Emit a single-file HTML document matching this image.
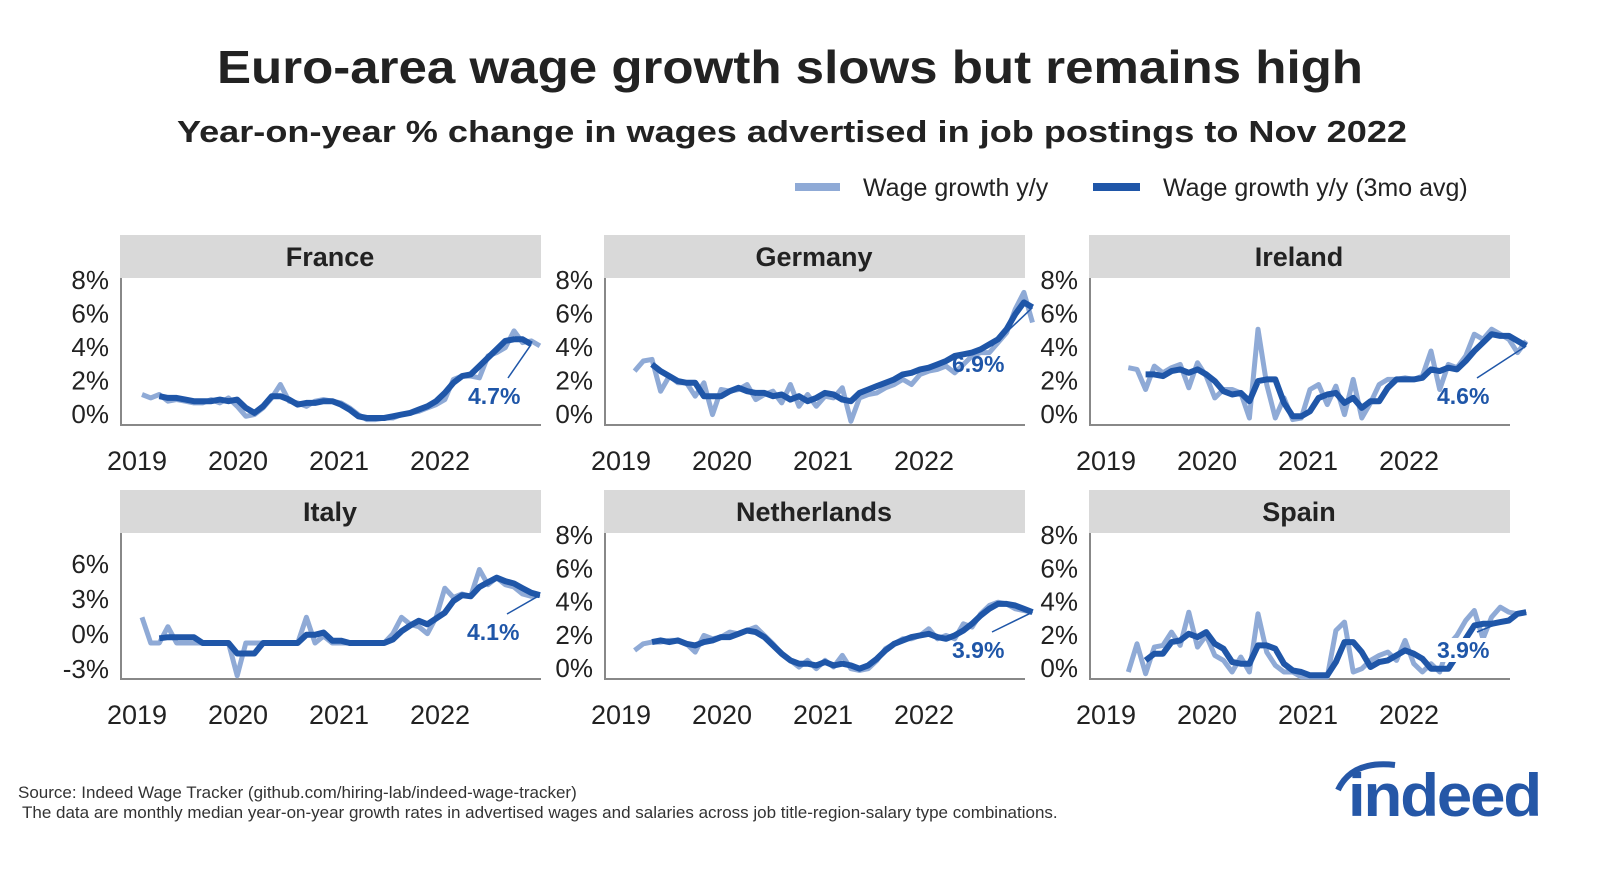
<!DOCTYPE html>
<html><head><meta charset="utf-8"><style>
html,body{margin:0;padding:0;background:#fff;}
svg{display:block;font-family:"Liberation Sans",sans-serif;}
</style></head><body>
<svg id="chart" width="1600" height="873" viewBox="0 0 1600 873" xmlns="http://www.w3.org/2000/svg">
<text x="790" y="83" text-anchor="middle" font-size="46" font-weight="bold" fill="#222" textLength="1146" lengthAdjust="spacingAndGlyphs">Euro-area wage growth slows but remains high</text>
<text x="792" y="142" text-anchor="middle" font-size="31" font-weight="bold" fill="#222" textLength="1230" lengthAdjust="spacingAndGlyphs">Year-on-year % change in wages advertised in job postings to Nov 2022</text>
<g>
<g><line x1="795" y1="187" x2="840" y2="187" stroke="#8faad6" stroke-width="8"/><text x="863" y="196" font-size="25" fill="#222">Wage growth y/y</text></g>
<g><line x1="1093" y1="187" x2="1140" y2="187" stroke="#1f56a8" stroke-width="8"/><text x="1163" y="196" font-size="25" fill="#222">Wage growth y/y (3mo avg)</text></g>
</g>
<g id="panels"></g>
<text x="18" y="798" font-size="17" fill="#333">Source: Indeed Wage Tracker (github.com/hiring-lab/indeed-wage-tracker)</text>
<text x="22" y="818" font-size="17" fill="#333">The data are monthly median year-on-year growth rates in advertised wages and salaries across job title-region-salary type combinations.</text>
<g>
<path d="M1338 790 Q1352 760 1395 765" stroke="#2557a7" stroke-width="6" fill="none"/>
<text x="1348" y="816" font-size="60" font-weight="bold" fill="#2557a7" letter-spacing="-2" textLength="192" lengthAdjust="spacingAndGlyphs">indeed</text>
</g>
</svg>
<script>
const countries = ["France","Germany","Ireland","Italy","Netherlands","Spain"];
const frRaw = [1.7,1.5,1.7,1.3,1.4,1.3,1.2,1.2,1.4,1.2,1.5,1.0,0.4,0.5,0.9,1.5,2.3,1.3,1.2,1.0,1.3,1.4,1.3,1.2,0.9,0.5,0.2,0.2,0.3,0.3,0.5,0.6,0.7,0.9,1.1,1.4,2.6,2.8,2.8,2.7,4.0,4.2,4.5,5.5,4.8,4.9,4.6];
const frAvg = [null,null,1.6,1.5,1.5,1.4,1.3,1.3,1.3,1.4,1.3,1.4,0.9,0.6,1.0,1.6,1.6,1.4,1.1,1.2,1.2,1.3,1.3,1.1,0.8,0.4,0.3,0.3,0.3,0.4,0.5,0.6,0.8,1.0,1.3,1.8,2.4,2.8,2.9,3.4,3.9,4.4,4.9,5.0,5.0,4.7];
const deRaw = [3.1,3.7,3.8,1.9,2.8,2.4,2.4,1.6,2.4,0.5,2.0,1.9,2.0,2.3,1.4,1.7,1.9,1.2,2.3,1.0,1.7,1.0,1.6,1.5,2.1,0.1,1.5,1.7,1.8,2.1,2.3,2.6,2.3,2.9,3.1,3.2,3.4,3.0,3.5,4.0,4.2,4.2,4.8,5.4,6.8,7.8,6.0];
const deAvg = [null,null,3.5,3.1,2.8,2.5,2.4,2.4,1.6,1.6,1.6,1.9,2.1,1.9,1.8,1.8,1.6,1.7,1.4,1.6,1.3,1.5,1.8,1.7,1.4,1.3,1.8,2.0,2.2,2.4,2.6,2.9,3.0,3.2,3.3,3.5,3.7,4.0,4.1,4.2,4.4,4.7,5.0,5.6,6.5,7.2,6.9];
const ieRaw = [3.3,3.2,2.0,3.4,3.0,3.3,3.5,2.1,3.6,2.8,1.5,2.0,2.0,1.8,0.3,5.6,2.3,0.3,1.5,0.2,0.3,2.0,2.3,1.1,2.2,0.5,2.6,0.3,1.2,2.3,2.6,2.6,2.7,2.6,2.8,4.3,2.0,3.5,3.3,4.0,5.3,5.0,5.6,5.3,5.0,4.2,4.9];
const ieAvg = [null,null,2.9,2.9,2.8,3.1,3.2,3.0,3.2,2.9,2.5,1.9,1.7,1.8,1.3,2.5,2.6,2.6,1.2,0.4,0.4,0.7,1.5,1.7,1.8,1.2,1.5,0.9,1.3,1.3,2.1,2.6,2.6,2.6,2.7,3.2,3.1,3.3,3.2,3.7,4.3,4.8,5.3,5.2,5.2,4.9,4.6];
const itRaw = [2.2,0,0,1.4,0,0,0,0,0,0,0,-2.8,0,0,0,0,0,0,0,2.2,0,0.6,0,0,0,0,0,0,0,0.8,2.2,1.6,1.4,0.8,2.2,4.7,3.9,4.2,4.0,6.3,5.0,5.6,5.0,4.8,4.2,4.0,4.1];
const itAvg = [null,null,0.4,0.5,0.5,0.5,0.5,0,0,0,0,-0.9,-0.9,-0.9,0,0,0,0,0,0.7,0.7,0.9,0.2,0.2,0,0,0,0,0,0.3,1.0,1.5,1.9,1.6,2.1,2.6,3.6,4.1,4.0,4.8,5.2,5.6,5.3,5.1,4.7,4.3,4.1];
const nlRaw = [1.6,2.0,2.1,2.1,2.2,2.2,2.0,1.5,2.5,2.3,2.4,2.7,2.6,2.8,3.0,2.5,2.0,1.4,1.0,0.6,1.0,0.5,1.0,0.6,1.3,0.5,0.4,0.5,1.0,1.7,2.0,2.3,2.3,2.5,2.9,2.3,2.5,2.3,3.2,3.0,3.8,4.3,4.5,4.4,4.1,4.0,3.9];
const nlAvg = [null,null,2.1,2.2,2.1,2.2,2.0,1.9,2.1,2.2,2.4,2.4,2.6,2.8,2.7,2.4,1.9,1.4,1.0,0.8,0.8,0.7,0.9,0.7,0.8,0.7,0.5,0.7,1.1,1.6,2.0,2.2,2.4,2.5,2.6,2.4,2.3,2.5,2.8,3.2,3.7,4.1,4.4,4.4,4.3,4.1,3.9];
const esRaw = [0.3,2.0,0.2,1.8,1.9,2.7,1.9,3.9,1.8,2.5,1.3,1.0,0.3,1.2,0.3,3.8,1.5,0.7,0.3,0.3,0,0,0,0,2.8,3.3,0.3,0.5,1.0,1.3,1.5,1.0,2.2,0.8,0.3,0.8,0.3,1.9,2.5,3.4,4.0,2.3,3.6,4.2,3.9,3.8,3.9];
const esAvg = [null,null,1.0,1.4,1.4,2.1,2.2,2.6,2.4,2.7,2.0,1.7,0.9,0.8,0.8,1.9,1.9,1.7,0.8,0.4,0.3,0.1,0.1,0.1,0.9,2.1,2.1,1.5,0.6,0.9,1.0,1.3,1.6,1.4,1.1,0.5,0.5,0.5,1.3,2.3,3.1,3.2,3.2,3.3,3.4,3.8,3.9];
const lastLabels = ["4.7%","6.9%","4.6%","4.1%","3.9%","3.9%"];
const yTicksStd = [0,2,4,6,8];
const yTicksItaly = [-3,0,3,6];
const yearLabels = ["2019","2020","2021","2022"];

const rawSets=[frRaw,deRaw,ieRaw,itRaw,nlRaw,esRaw];
const avgSets=[frAvg,deAvg,ieAvg,itAvg,nlAvg,esAvg];
const shifts=[0,1,2,0,1,2];
const labelPos=[[468,404],[952,372],[1437,404],[467,640],[952,658],[1437,658]];
const NS="http://www.w3.org/2000/svg";
const root=document.getElementById('panels');
function mk(tag,attrs,parent){const e=document.createElementNS(NS,tag);for(const k in attrs)e.setAttribute(k,attrs[k]);parent.appendChild(e);return e;}
const px=[120,604,1089];
for(let p=0;p<6;p++){
  const left=px[p%3], row=Math.floor(p/3);
  const top=row?490:235;
  const g=mk('g',{},root);
  
  
  const hdr=mk('rect',{x:left,y:top,width:421,height:43,fill:'#d9d9d9'},g);
  
  
  const ht=mk('text',{x:left+210,y:top+31,'text-anchor':'middle','font-size':27,'font-weight':'bold',fill:'#222'},g);
  ht.textContent=countries[p];
  
  
  let yMin,yMax,y0,y1,ticks;
  if(p===3){yMin=-3;yMax=6;y0=678;y1=573;ticks=yTicksItaly;}
  else if(row===0){yMin=0;yMax=8;y0=423;y1=289;ticks=yTicksStd;}
  else {yMin=0;yMax=8;y0=677;y1=544;ticks=yTicksStd;}
  const ys=v=>y0+(v-yMin)*(y1-y0)/(yMax-yMin);
  const step=8.65, off=22;
  const xs=i=>left+off+(i+shifts[p])*step;
  const axisBottom=row?679:425;
  const ax=mk('path',{d:`M${left+1} ${top+43} V${axisBottom} H${left+421}`,stroke:'#888','stroke-width':2,fill:'none'},g);
  
  
  ticks.forEach(t=>{
    const tx=mk('text',{x:left-11,y:ys(t),'text-anchor':'end','font-size':26,fill:'#222'},g);
    tx.textContent=t+'%';
    
    
  });
  yearLabels.forEach((yl,k)=>{
    const tx=mk('text',{x:left+17+k*101,y:row?724:470,'text-anchor':'middle','font-size':27,fill:'#222'},g);
    tx.textContent=yl;
    
    
  });
  function path(arr){let d='';let started=false;arr.forEach((v,i)=>{if(v===null)return;d+=(started?'L':'M')+xs(i).toFixed(1)+' '+ys(v).toFixed(1);started=true;});return d;}
  const rl=mk('path',{d:path(rawSets[p]),stroke:'#8faad6','stroke-width':5,fill:'none','stroke-linejoin':'round'},g);
  
  
  const al=mk('path',{d:path(avgSets[p]),stroke:'#1f56a8','stroke-width':6,fill:'none','stroke-linejoin':'round'},g);
  
  
  const av=avgSets[p], li=av.length-1;
  const [lx,ly]=labelPos[p];
  const ll=mk('line',{x1:lx+40,y1:ly-26,x2:xs(li),y2:ys(av[li]),stroke:'#1f56a8','stroke-width':1.5},g);
  
  
  if(p===5){mk('rect',{x:lx-2,y:ly-20,width:62,height:24,fill:'#fff'},g);}
  const lt=mk('text',{x:lx,y:ly,'font-size':23,'font-weight':'bold',fill:'#1f56a8'},g);
  lt.textContent=lastLabels[p];
  
  
}
</script>
</body></html>
